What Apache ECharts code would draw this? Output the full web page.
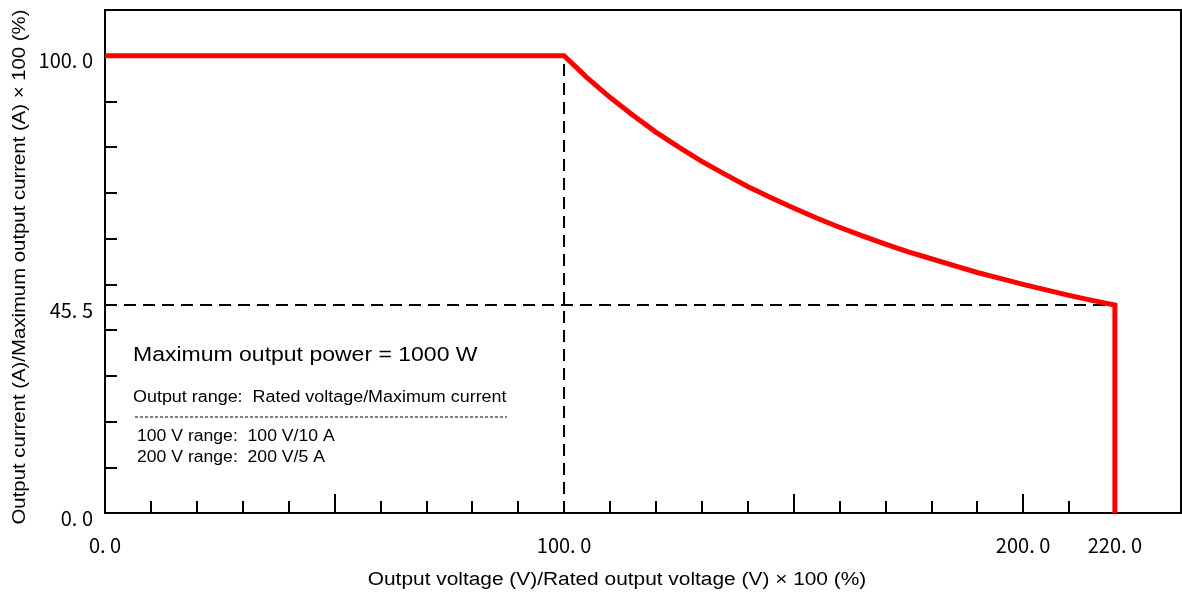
<!DOCTYPE html>
<html>
<head>
<meta charset="utf-8">
<script src="https://cdn.jsdelivr.net/npm/echarts@6/dist/echarts.min.js"></script>
<style>
  html, body { margin: 0; padding: 0; background: #fff; }
  #chart { width: 1182px; height: 594px; }
</style>
</head>
<body>
<div id="chart"></div>
<script>
// 电压 (%) / 电流 (%)
const voltage = [0, 100, 105, 110, 115, 120, 125, 130, 135, 140, 145, 150, 155, 160, 165, 170, 175, 180, 185, 190, 195, 200, 205, 210, 215, 220, 220]
const current = [100, 100, 95.2, 90.9, 87.0, 83.3, 80.0, 76.9, 74.1, 71.4, 69.0, 66.7, 64.5, 62.5, 60.6, 58.8, 57.1, 55.6, 54.1, 52.6, 51.3, 50.0, 48.8, 47.6, 46.5, 45.5, 0]
const ratedVoltage = 100
const limitVoltage = 220
const limitCurrent = 45.5
const xLabels = [0, 100, 200, 220]
const yLabels = [0, 45.5, 100]
const xShortTicks = [10, 20, 30, 40, 60, 70, 80, 90, 110, 120, 130, 140, 160, 170, 180, 190, 210]
const xLongTicks = [50, 150, 200]
const yTicks = [10, 20, 30, 40, 50, 60, 70, 80, 90]

const numFont = '"Noto Sans CJK JP", sans-serif'
const textFont = '"Liberation Sans", Arial, sans-serif'

const fmt = v => v.toFixed(1).replace('.', '. ')

const chart = echarts.init(document.getElementById('chart'))

const baseX = {
  type: 'value',
  min: 0,
  max: 234.4,
  position: 'bottom',
  splitLine: { show: false },
  axisLine: { onZero: false, lineStyle: { color: '#000', width: 2 } }
}

const txt = (left, top, text, size, sx) => ({
  type: 'text',
  left,
  top,
  scaleX: sx,
  style: { text, fontFamily: textFont, fontSize: size, fill: '#000' }
})

chart.setOption({
  animation: false,
  backgroundColor: '#fff',
  grid: {
    left: 105,
    right: 1,
    top: 10,
    bottom: 81,
    containLabel: false,
    outerBoundsMode: 'none',
    show: true,
    borderColor: '#000',
    borderWidth: 2
  },
  xAxis: [
    {
      ...baseX,
      axisTick: { inside: true, length: 12, customValues: xShortTicks, lineStyle: { color: '#000', width: 2 } },
      axisLabel: {
        customValues: xLabels,
        formatter: fmt,
        margin: 22,
        fontFamily: numFont,
        fontSize: 20,
        color: '#000'
      }
    },
    {
      ...baseX,
      axisLine: { show: false, onZero: false },
      axisTick: { inside: true, length: 19, customValues: xLongTicks, lineStyle: { color: '#000', width: 2 } },
      axisLabel: { show: false }
    }
  ],
  yAxis: {
    type: 'value',
    min: 0,
    max: 110,
    splitLine: { show: false },
    axisLine: { lineStyle: { color: '#000', width: 2 } },
    axisTick: { inside: true, length: 12, customValues: yTicks, lineStyle: { color: '#000', width: 2 } },
    axisLabel: {
      customValues: yLabels,
      formatter: fmt,
      margin: 12,
      verticalAlign: 'top',
      lineHeight: 10,
      fontFamily: numFont,
      fontSize: 20,
      color: '#000'
    }
  },
  series: [
    {
      type: 'line',
      symbol: 'none',
      z: 2,
      lineStyle: { color: '#000', width: 2, type: [12, 7] },
      data: [[ratedVoltage, 0], [ratedVoltage, 100]]
    },
    {
      type: 'line',
      symbol: 'none',
      z: 2,
      lineStyle: { color: '#000', width: 2, type: [12, 7] },
      data: [[0, limitCurrent], [limitVoltage, limitCurrent]]
    },
    {
      type: 'line',
      symbol: 'none',
      z: 5,
      lineStyle: { color: '#ff0000', width: 5, join: 'miter' },
      data: voltage.map((v, i) => [v, current[i]])
    }
  ],
  graphic: [
    txt(133, 345, 'Maximum output power = 1000 W', 20, 1.15),
    txt(133, 390, 'Output range:  Rated voltage/Maximum current', 16, 1.12),
    {
      type: 'line',
      shape: { x1: 135, y1: 417, x2: 507, y2: 417 },
      style: { stroke: '#000', lineWidth: 1, lineDash: [3, 2] }
    },
    txt(137, 429, '100 V range:  100 V/10 A', 16, 1.1),
    txt(137, 450, '200 V range:  200 V/5 A', 16, 1.1),
    // axis titles
    {
      type: 'text',
      x: 617,
      y: 580,
      scaleX: 1.16,
      style: {
        text: 'Output voltage (V)/Rated output voltage (V) × 100 (%)',
        fontFamily: textFont, fontSize: 18, fill: '#000',
        align: 'center', verticalAlign: 'middle'
      }
    },
    {
      type: 'text',
      x: 20,
      y: 267,
      rotation: Math.PI / 2,
      scaleX: 1.13,
      style: {
        text: 'Output current (A)/Maximum output current (A) × 100 (%)',
        fontFamily: textFont, fontSize: 18, fill: '#000',
        align: 'center', verticalAlign: 'middle'
      }
    }
  ]
})
</script>
</body>
</html>
